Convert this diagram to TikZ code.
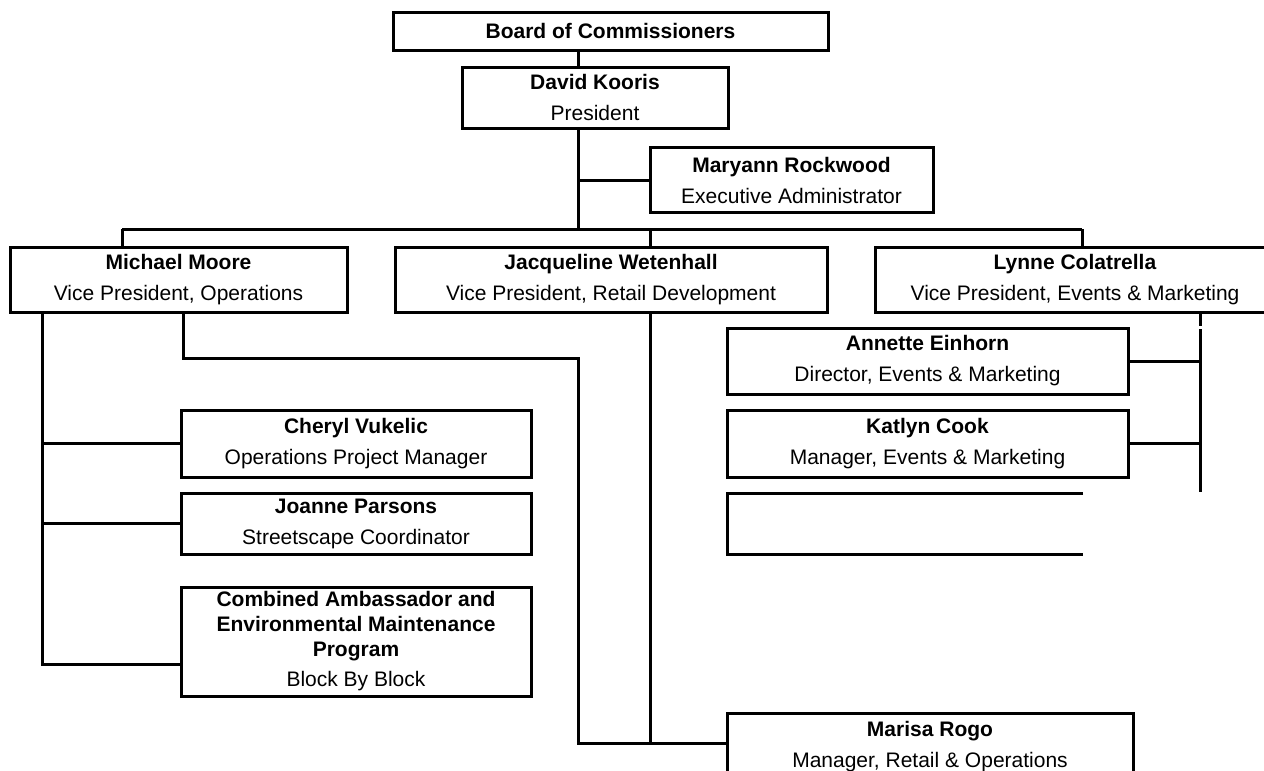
\documentclass[tikz,border=0pt]{standalone}
\usepackage{fontspec}
\setmainfont{Liberation Sans}
\begin{document}
\begin{tikzpicture}[x=1pt,y=-1pt,
  line width=3pt,
  box/.style={draw, rectangle, line width=3pt, inner sep=0pt, outer sep=0pt,
    align=center, font=\fontsize{21}{25}\selectfont},
  conn/.style={draw, line width=3pt}]
\useasboundingbox (0,0) rectangle (1264,771);
\clip (0,0) rectangle (1264,771);

% boxes
\node[box, minimum width=435pt, minimum height=38pt] (board) at (610.5,31) {\textbf{Board of Commissioners}};
\node[box, minimum width=266pt, minimum height=61pt] (david) at (595,97.5) {\textbf{David Kooris}\\[6pt]President};
\node[box, minimum width=283pt, minimum height=65pt] (maryann) at (791.5,180) {\textbf{Maryann Rockwood}\\[6pt]Executive Administrator};
\node[box, minimum width=337pt, minimum height=65pt] (michael) at (178.5,279.5) {\textbf{Michael Moore}\\[6pt]Vice President, Operations};
\node[box, minimum width=432pt, minimum height=65pt] (jacq) at (611,279.5) {\textbf{Jacqueline Wetenhall}\\[6pt]Vice President, Retail Development};
\node[box, minimum width=400pt, minimum height=65pt] (lynne) at (1075,279.5) {\textbf{Lynne Colatrella}\\[6pt]Vice President, Events \& Marketing};
\node[box, minimum width=401pt, minimum height=66pt] (annette) at (927.5,361) {\textbf{Annette Einhorn}\\[6pt]Director, Events \& Marketing};
\node[box, minimum width=401pt, minimum height=67pt] (katlyn) at (927.5,443.5) {\textbf{Katlyn Cook}\\[6pt]Manager, Events \& Marketing};
\node[box, minimum width=350pt, minimum height=67pt] (cheryl) at (356,443.5) {\textbf{Cheryl Vukelic}\\[6pt]Operations Project Manager};
\node[box, minimum width=350pt, minimum height=61pt] (joanne) at (356,523.5) {\textbf{Joanne Parsons}\\[6pt]Streetscape Coordinator};
\node[box, minimum width=350pt, minimum height=109pt] (combined) at (356,641.5) {\textbf{Combined Ambassador and}\\\textbf{Environmental Maintenance}\\\textbf{Program}\\[5pt]Block By Block};
\node[box, minimum width=406pt, minimum height=67pt] (marisa) at (930,746.5) {\textbf{Marisa Rogo}\\[6pt]Manager, Retail \& Operations};

% open (empty) box
\draw (1083,493) -- (727,493) -- (727,554) -- (1083,554);

% coordinates
\coordinate (spine) at (578,0);
\coordinate (busM) at (578,229);
\coordinate (busL) at (122,229);
\coordinate (busR) at (1082,229);
\coordinate (jx) at (650,229);
\coordinate (jb) at (650,743);
\coordinate (ml) at (42,0);
\coordinate (mlb) at (42,664);
\coordinate (mr1) at (183,358);
\coordinate (mr2) at (578,358);
\coordinate (mr3) at (578,743);
\coordinate (lx) at (1200,0);
\coordinate (lg1) at (1200,326);
\coordinate (lg2) at (1200,329);
\coordinate (lend) at (1200,492);

% connectors
\draw[conn] (board.south -| spine) -- (david.north -| spine);
\draw[conn] (david.south -| spine) -- (busM);
\draw[conn] (spine |- maryann.west) -- (maryann.west);
\draw[conn] (busL) -- (busR);
\draw[conn] (busL) -- (busL |- michael.north);
\draw[conn] (jx) -- (jx |- jacq.north);
\draw[conn] (busR) -- (busR |- lynne.north);

\draw[conn] (ml |- michael.south) -- (mlb) -- (combined.west |- mlb);
\draw[conn] (ml |- cheryl.west) -- (cheryl.west);
\draw[conn] (ml |- joanne.west) -- (joanne.west);

\draw[conn] (mr1 |- michael.south) -- (mr1) -- (mr2) -- (mr3) -- (marisa.west |- mr3);
\draw[conn] (jx |- jacq.south) -- (jb);

\draw[conn] (lx |- lynne.south) -- (lg1);
\draw[conn] (lg2) -- (lend);
\draw[conn] (lx |- annette.east) -- (annette.east);
\draw[conn] (lx |- katlyn.east) -- (katlyn.east);
\end{tikzpicture}
\end{document}
